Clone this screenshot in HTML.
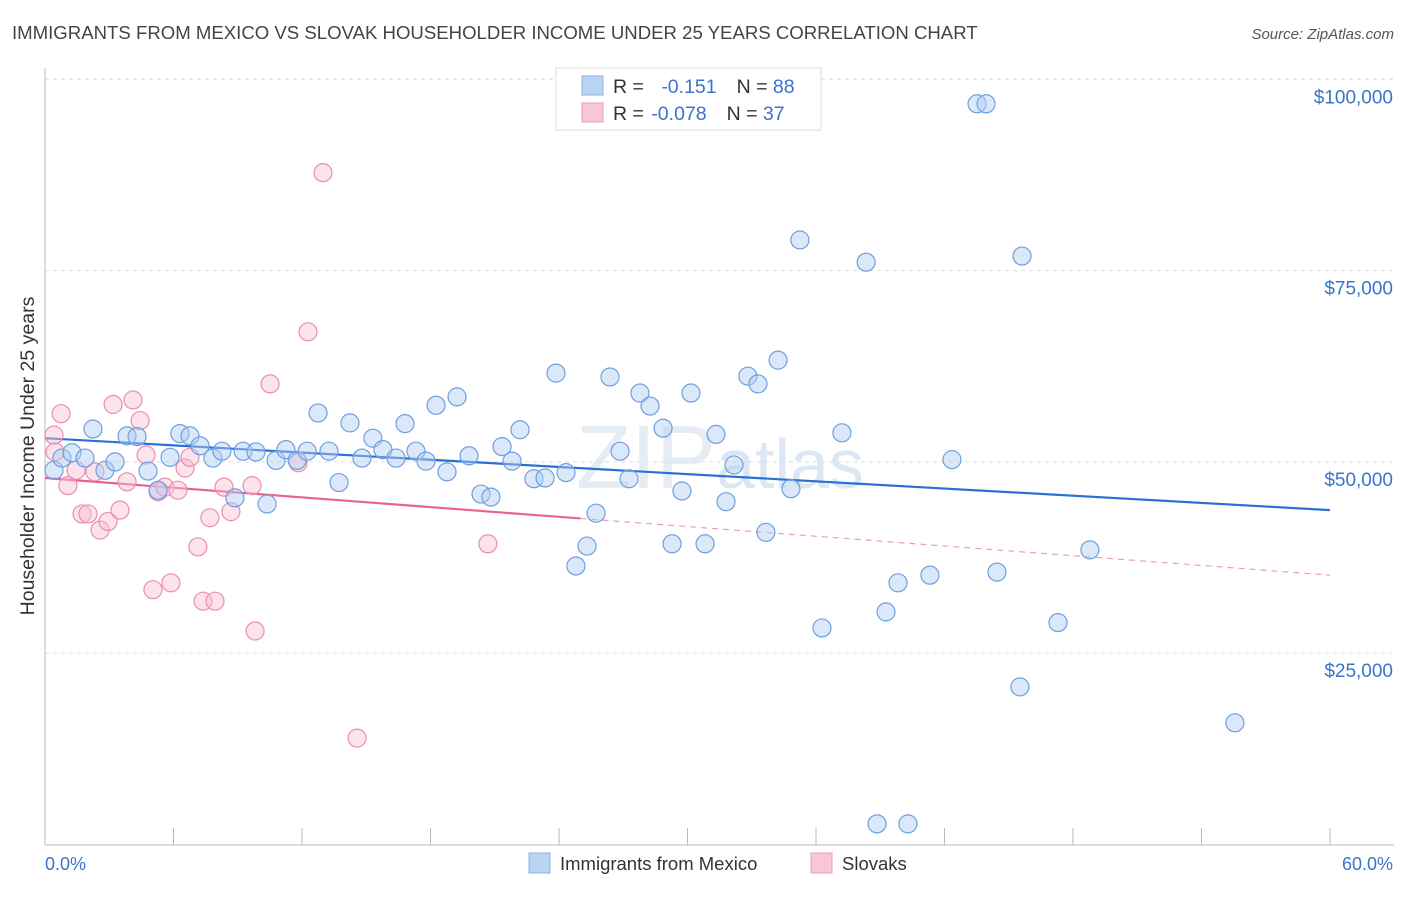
<!DOCTYPE html>
<html><head><meta charset="utf-8"><style>
body{margin:0;background:#fff;font-family:"Liberation Sans",sans-serif;}
svg text{font-family:"Liberation Sans",sans-serif;}
</style></head><body>
<svg id="chart" width="1406" height="892" viewBox="0 0 1406 892" xmlns="http://www.w3.org/2000/svg">
<text x="12" y="39" font-size="18.6" fill="#444">IMMIGRANTS FROM MEXICO VS SLOVAK HOUSEHOLDER INCOME UNDER 25 YEARS CORRELATION CHART</text>
<text x="1394" y="39" font-size="15" fill="#555" text-anchor="end" font-style="italic">Source: ZipAtlas.com</text>
<text x="720" y="488" font-size="90" fill="#e6ecf3" text-anchor="middle" font-family="Liberation Serif">ZIP<tspan font-family="Liberation Sans" font-size="70" fill="#dce7f5">atlas</tspan></text>
<g id="grid"></g>
<g id="axes"></g>
<g id="trend"></g>
<g id="points"></g>
<text transform="translate(34,456) rotate(-90)" font-size="19.5" fill="#333" text-anchor="middle">Householder Income Under 25 years</text>
<g>
<rect x="556" y="68" width="265" height="62" fill="#fff" stroke="#ddd"/>
<rect x="582" y="76" width="21" height="19" fill="#b9d3f3" stroke="#8fb3e6"/>
<rect x="582" y="103" width="21" height="19" fill="#f9c6d6" stroke="#ee9fb8"/>
<text x="613" y="93" font-size="19.5" fill="#333">R = <tspan fill="#3a74c8" dx="12">-0.151</tspan><tspan dx="20" fill="#333">N = </tspan><tspan fill="#3a74c8">88</tspan></text>
<text x="613" y="120" font-size="19.5" fill="#333">R = <tspan fill="#3a74c8" dx="2">-0.078</tspan><tspan dx="20" fill="#333">N = </tspan><tspan fill="#3a74c8">37</tspan></text>
</g>
<g>
<rect x="529" y="853" width="21" height="20" fill="#b9d3f3" stroke="#8fb3e6"/>
<text x="560" y="870" font-size="18.5" fill="#333">Immigrants from Mexico</text>
<rect x="811" y="853" width="21" height="20" fill="#f9c6d6" stroke="#ee9fb8"/>
<text x="842" y="870" font-size="18.5" fill="#333">Slovaks</text>
</g>
</svg>
<script>
const NS="http://www.w3.org/2000/svg";
const xTicks=[0,6,12,18,24,30,36,42,48,54,60];
const yTicks=[25000,50000,75000,100000];
const yTickLabels=["$25,000","$50,000","$75,000","$100,000"];
const xEndLabels=["0.0%","60.0%"];
const mexicoX=[0.42,0.79,1.26,1.87,2.24,2.80,3.27,3.83,4.30,4.81,5.28,5.84,6.30,6.77,7.24,7.84,8.26,8.87,9.25,9.85,10.37,10.79,11.25,11.77,12.24,12.75,13.26,13.73,14.24,14.80,15.31,15.78,16.39,16.81,17.32,17.79,18.26,18.77,19.24,19.80,20.36,20.82,21.34,21.81,22.18,22.83,23.35,23.86,24.33,24.79,25.31,25.73,26.38,26.85,27.27,27.78,28.25,28.86,29.28,29.74,30.16,30.82,31.33,31.80,32.17,32.82,33.29,33.66,34.23,34.83,35.25,36.28,37.21,38.34,38.85,39.27,39.83,40.29,41.32,42.35,43.52,43.94,44.45,45.52,45.62,47.30,48.79,55.56];
const mexicoY=[48.9,50.5,51.2,50.5,54.3,48.9,50.0,53.4,53.3,48.8,46.3,50.6,53.7,53.4,52.1,50.5,51.4,45.3,51.4,51.3,44.5,50.2,51.6,50.2,51.4,56.4,51.4,47.3,55.1,50.5,53.1,51.6,50.5,55.0,51.4,50.1,57.4,48.7,58.5,50.8,45.8,45.4,52.0,50.1,54.2,47.8,47.9,61.6,48.6,36.4,39.0,43.3,61.1,51.4,47.8,59.0,57.3,54.4,39.3,46.2,59.0,39.3,53.6,44.8,49.6,61.2,60.2,40.8,63.3,46.5,79.0,28.3,53.8,76.1,2.7,30.4,34.2,2.7,35.2,50.3,96.8,96.8,35.6,20.6,76.9,29.0,38.5,15.9];
const slovakX=[0.42,0.47,0.75,1.07,1.45,1.73,2.01,2.33,2.57,2.94,3.18,3.50,3.83,4.11,4.44,4.72,5.04,5.28,5.60,5.88,6.21,6.54,6.77,7.14,7.38,7.70,7.94,8.36,8.68,9.67,9.81,10.51,11.82,12.28,12.98,14.57,20.68];
const slovakY=[53.5,51.3,56.3,46.9,48.9,43.2,43.2,48.7,41.1,42.2,57.5,43.7,47.4,58.1,55.4,50.9,33.3,46.1,46.7,34.2,46.3,49.2,50.6,38.9,31.8,42.7,31.8,46.7,43.5,46.9,27.9,60.2,49.9,67.0,87.8,13.9,39.3];
const mexicoTrend=[53.1,43.7];
const slovakTrend=[47.9,35.2];
const slovakSolidEnd=25.0;
const X0=45,X1=1330,XMAX=60,YB=844.5,PXK=191.3/25;
const sx=v=>X0+(v/XMAX)*(X1-X0);
const sy=v=>YB-v*PXK;
function mk(tag,attrs,parent){const e=document.createElementNS(NS,tag);for(const k in attrs)e.setAttribute(k,attrs[k]);parent.appendChild(e);return e;}
const grid=document.getElementById('grid'),axes=document.getElementById('axes'),trend=document.getElementById('trend'),pts=document.getElementById('points');
yTicks.forEach((t,i)=>{
 const y=sy(t/1000);
 const l=mk('line',{x1:X0,x2:1394,y1:y,y2:y,stroke:'#ddd','stroke-dasharray':'4,4'},grid);
 
 
 const tx=mk('text',{x:1393,y:y+24,'font-size':19,fill:'#3a74c8','text-anchor':'end'},axes);
 tx.textContent=yTickLabels[i];
 
 
});
const topLine=mk('line',{x1:X0,x2:1394,y1:79,y2:79,stroke:'#ddd','stroke-dasharray':'4,4'},grid);


const ya=mk('line',{x1:X0,x2:X0,y1:68,y2:845,stroke:'#bbb'},axes);


const xa=mk('line',{x1:X0,x2:1394,y1:845,y2:845,stroke:'#bbb'},axes);


xTicks.forEach(t=>{
 const tk=mk('line',{x1:sx(t),x2:sx(t),y1:828,y2:845,stroke:'#bbb'},axes);
 
 
});
const xl0=mk('text',{x:45,y:870,'font-size':18,fill:'#3a74c8'},axes);
xl0.textContent=xEndLabels[0];


const xl1=mk('text',{x:1393,y:870,'font-size':18,fill:'#3a74c8','text-anchor':'end'},axes);
xl1.textContent=xEndLabels[1];


function dot(x,y,fill,stroke,name){
 const c=mk('circle',{cx:sx(x),cy:sy(y),r:9,fill:fill,'fill-opacity':0.45,stroke:stroke,'stroke-width':1.2},pts);
 
 
}
slovakX.forEach((x,i)=>dot(x,slovakY[i],'#f7bfd2','#e98fae','slovak-point'));
mexicoX.forEach((x,i)=>dot(x,mexicoY[i],'#afcdf2','#6d9fe0','mexico-point'));
const bt=mk('line',{x1:sx(0),y1:sy(mexicoTrend[0]),x2:sx(60),y2:sy(mexicoTrend[1]),stroke:'#2a6fd6','stroke-width':2.2},trend);


const pAt=x=>slovakTrend[0]+(slovakTrend[1]-slovakTrend[0])*x/60;
const pt=mk('line',{x1:sx(0),y1:sy(pAt(0)),x2:sx(slovakSolidEnd),y2:sy(pAt(slovakSolidEnd)),stroke:'#e8648f','stroke-width':2.2},trend);


const pd=mk('line',{x1:sx(slovakSolidEnd),y1:sy(pAt(slovakSolidEnd)),x2:sx(60),y2:sy(pAt(60)),stroke:'#e8a0b8','stroke-width':1.2,'stroke-dasharray':'6,5'},trend);


</script>
</body></html>
